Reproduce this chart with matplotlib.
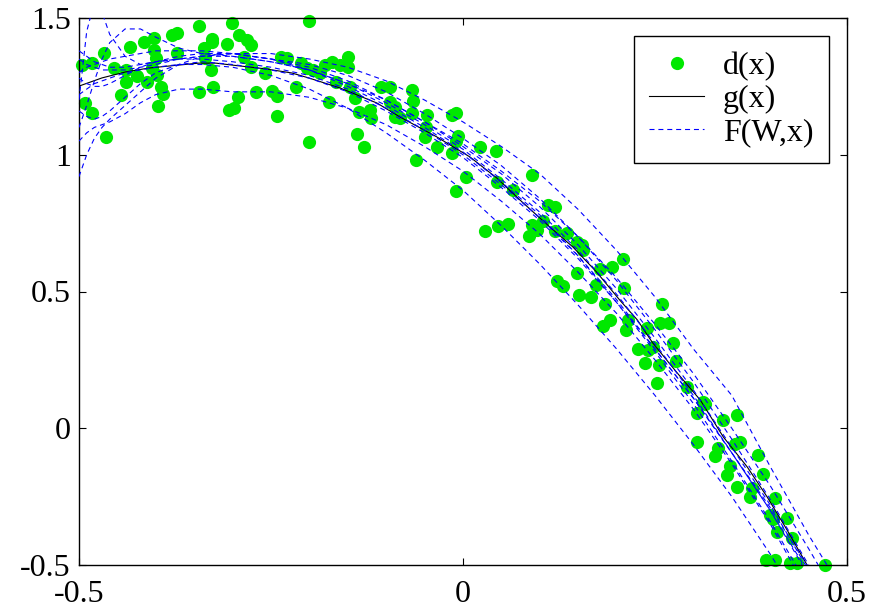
import numpy as np
import matplotlib
matplotlib.use("Agg")
import matplotlib.pyplot as plt

plt.rcParams['font.family'] = ['Liberation Serif', 'DejaVu Serif']
plt.rcParams['axes.unicode_minus'] = False

# ---- noisy samples d(x) ----
d_x = [-0.496, -0.483, -0.467, -0.454, -0.434, -0.415, -0.402, -0.379, -0.372, -0.344,
       -0.301, -0.201, -0.439, -0.439, -0.424, -0.411, -0.402, -0.400, -0.405, -0.398,
       -0.393, -0.391, -0.397, -0.445, -0.492, -0.483, -0.465, -0.372, -0.337, -0.336,
       -0.328, -0.327, -0.327, -0.326, -0.344, -0.307, -0.292, -0.281, -0.276, -0.285,
       -0.276, -0.293, -0.305, -0.298, -0.270, -0.258, -0.249, -0.242, -0.242, -0.237,
       -0.229, -0.217, -0.211, -0.201, -0.203, -0.195, -0.186, -0.180, -0.171, -0.160,
       -0.150, -0.150, -0.165, -0.147, -0.141, -0.174, -0.135, -0.121, -0.120, -0.138,
       -0.129, -0.107, -0.095, -0.095, -0.089, -0.089, -0.082, -0.066, -0.065, -0.066,
       -0.047, -0.048, -0.049, -0.014, -0.009, -0.006, -0.009, -0.034, -0.014, -0.061,
       0.022, 0.043, 0.004, -0.009, 0.044, 0.090, 0.065, 0.111, 0.120, 0.029,
       0.046, 0.059, 0.104, 0.090, 0.096, 0.086, 0.120, 0.135, 0.148, 0.155,
       0.156, 0.208, 0.194, 0.178, 0.148, 0.122, 0.130, 0.173, 0.210, 0.151,
       0.167, 0.185, 0.191, 0.215, 0.182, 0.212, 0.259, 0.257, 0.268, 0.240,
       0.273, 0.228, 0.241, 0.247, 0.237, 0.255, 0.277, 0.253, 0.292, 0.3125,
       0.315, 0.305, 0.339, 0.357, 0.305, 0.332, 0.328, 0.354, 0.361, 0.384,
       0.348, 0.344, 0.391, 0.357, 0.376, 0.374, 0.406, 0.400, 0.404, 0.422,
       0.409, 0.428, 0.395, 0.406, 0.426, 0.435, 0.471]
d_y = [1.328, 1.335, 1.372, 1.317, 1.394, 1.412, 1.427, 1.438, 1.445, 1.471,
       1.482, 1.489, 1.310, 1.266, 1.288, 1.266, 1.383, 1.354, 1.317, 1.292,
       1.248, 1.222, 1.178, 1.218, 1.189, 1.153, 1.065, 1.372, 1.390, 1.354,
       1.310, 1.423, 1.412, 1.248, 1.229, 1.405, 1.438, 1.420, 1.401, 1.357,
       1.321, 1.211, 1.164, 1.171, 1.229, 1.299, 1.233, 1.215, 1.142, 1.357,
       1.354, 1.248, 1.335, 1.047, 1.317, 1.310, 1.299, 1.328, 1.339, 1.328,
       1.357, 1.321, 1.266, 1.248, 1.207, 1.193, 1.156, 1.164, 1.134, 1.076,
       1.028, 1.248, 1.248, 1.193, 1.175, 1.138, 1.134, 1.237, 1.197, 1.153,
       1.145, 1.101, 1.065, 1.145, 1.153, 1.068, 1.050, 1.028, 1.006, 0.981,
       1.028, 1.014, 0.919, 0.867, 0.900, 0.926, 0.871, 0.816, 0.809, 0.721,
       0.739, 0.747, 0.758, 0.743, 0.725, 0.703, 0.721, 0.714, 0.681, 0.670,
       0.652, 0.619, 0.590, 0.582, 0.568, 0.538, 0.520, 0.524, 0.513, 0.487,
       0.480, 0.454, 0.396, 0.396, 0.374, 0.359, 0.454, 0.385, 0.385, 0.367,
       0.312, 0.290, 0.286, 0.297, 0.239, 0.231, 0.246, 0.165, 0.151, 0.096,
       0.089, 0.056, 0.030, 0.048, -0.050, -0.072, -0.101, -0.058, -0.050, -0.098,
       -0.138, -0.171, -0.167, -0.215, -0.218, -0.251, -0.255, -0.317, -0.332, -0.328,
       -0.379, -0.401, -0.482, -0.482, -0.493, -0.493, -0.500]

# ---- target function g(x) ----
g_x = [-0.500, -0.470, -0.439, -0.409, -0.370, -0.344, -0.322, -0.301, -0.257, -0.223,
       -0.201, -0.160, -0.112, -0.082, -0.034, 0.009, 0.044, 0.074, 0.113, 0.143,
       0.174, 0.204, 0.227, 0.247, 0.279, 0.309, 0.339, 0.370, 0.396, 0.422,
       0.448, 0.470]
g_y = [1.251, 1.281, 1.303, 1.317, 1.328, 1.335, 1.335, 1.328, 1.314, 1.299,
       1.281, 1.244, 1.189, 1.138, 1.065, 0.992, 0.915, 0.835, 0.736, 0.663,
       0.571, 0.469, 0.396, 0.312, 0.202, 0.103, -0.032, -0.141, -0.251, -0.372,
       -0.500, -0.600]

# ---- network outputs F(W,x), one list per trained network ----
f_x = [-0.50, -0.49, -0.48, -0.47, -0.46, -0.44, -0.42, -0.40, -0.37, -0.34,
       -0.30, -0.25, -0.20, -0.15, -0.10, -0.05, 0.00, 0.05, 0.10, 0.15,
       0.20, 0.25, 0.30, 0.35, 0.40, 0.45, 0.50]
f1 = [1.20, 1.45, 1.56, 1.52, 1.44, 1.36, 1.33, 1.34, 1.36, 1.37, 1.37, 1.35, 1.32, 1.27,
      1.20, 1.12, 1.03, 0.93, 0.81, 0.67, 0.51, 0.33, 0.14, -0.07, -0.28, -0.52, -0.78]
f2 = [1.10, 1.18, 1.27, 1.35, 1.41, 1.46, 1.46, 1.43, 1.39, 1.37, 1.36, 1.34, 1.31, 1.26,
      1.19, 1.11, 1.02, 0.91, 0.79, 0.65, 0.49, 0.31, 0.12, -0.09, -0.30, -0.54, -0.80]
f3 = [0.92, 1.00, 1.06, 1.10, 1.13, 1.18, 1.23, 1.28, 1.33, 1.36, 1.37, 1.35, 1.31, 1.25,
      1.18, 1.10, 1.01, 0.90, 0.78, 0.63, 0.46, 0.28, 0.09, -0.12, -0.34, -0.58, -0.85]
f4 = [1.05, 1.08, 1.10, 1.11, 1.12, 1.15, 1.19, 1.22, 1.24, 1.24, 1.23, 1.23, 1.21, 1.17,
      1.11, 1.03, 0.94, 0.83, 0.71, 0.57, 0.42, 0.25, 0.07, -0.13, -0.35, -0.60, -0.87]
f5 = [1.35, 1.33, 1.32, 1.31, 1.31, 1.31, 1.32, 1.33, 1.35, 1.36, 1.37, 1.37, 1.35, 1.32,
      1.27, 1.20, 1.12, 1.03, 0.93, 0.80, 0.65, 0.48, 0.29, 0.12, -0.14, -0.39, -0.62]
f6 = [1.30, 1.32, 1.33, 1.34, 1.35, 1.36, 1.37, 1.38, 1.38, 1.38, 1.37, 1.35, 1.33, 1.29,
      1.23, 1.15, 1.06, 0.96, 0.84, 0.70, 0.54, 0.36, 0.17, -0.04, -0.26, -0.50, -0.76]
f7 = [1.22, 1.24, 1.26, 1.27, 1.28, 1.30, 1.31, 1.32, 1.33, 1.33, 1.32, 1.29, 1.24, 1.17,
      1.08, 0.98, 0.87, 0.74, 0.60, 0.45, 0.29, 0.12, -0.06, -0.25, -0.46, -0.69, -0.95]
f8 = [1.28, 1.26, 1.25, 1.25, 1.26, 1.29, 1.32, 1.34, 1.35, 1.35, 1.34, 1.32, 1.29, 1.24,
      1.17, 1.09, 1.00, 0.89, 0.77, 0.63, 0.47, 0.29, 0.11, -0.09, -0.30, -0.53, -0.78]
f9 = [1.16, 1.14, 1.13, 1.14, 1.16, 1.21, 1.26, 1.30, 1.33, 1.34, 1.33, 1.31, 1.28, 1.23,
      1.16, 1.08, 0.99, 0.88, 0.76, 0.62, 0.46, 0.29, 0.11, -0.09, -0.29, -0.51, -0.75]
f10 = [1.38, 1.36, 1.34, 1.33, 1.32, 1.32, 1.33, 1.34, 1.35, 1.36, 1.36, 1.34, 1.31, 1.26,
       1.20, 1.12, 1.04, 0.94, 0.83, 0.70, 0.55, 0.38, 0.20, 0.00, -0.21, -0.44, -0.68]
f_curves = [f1, f2, f3, f4, f5, f6, f7, f8, f9, f10]

x_ticks = [-0.5, 0, 0.5]
x_ticklabels = ['-0.5', '0', '0.5']
y_ticks = [-0.5, 0, 0.5, 1, 1.5]
y_ticklabels = ['-0.5', '0', '0.5', '1', '1.5']
labels = ['d(x)', 'g(x)', 'F(W,x)']

fig = plt.figure(figsize=(8.82, 6.09), dpi=100)
ax = fig.add_axes([79/882, 1-565/609, (847-79)/882, (565-18)/609])

ax.plot(d_x, d_y, 'o', color='#00e800', ms=9.5, mew=0, clip_on=False,
        label=labels[0], zorder=2)
ax.plot(g_x, g_y, '-', color='black', lw=0.8, label=labels[1], zorder=3)
for i, f in enumerate(f_curves):
    ax.plot(f_x, f, '--', color='#0000ff', lw=0.8, dashes=(4.5, 3.5),
            label=labels[2] if i == 0 else None, zorder=4)

ax.set_xlim(-0.5, 0.5)
ax.set_ylim(-0.5, 1.5)
ax.set_xticks(x_ticks)
ax.set_xticklabels(x_ticklabels)
ax.set_yticks(y_ticks)
ax.set_yticklabels(y_ticklabels)
ax.tick_params(direction='in', length=5, width=0.8, top=True, right=True,
               labelsize=23)
ax.tick_params(axis='x', pad=11)
ax.tick_params(axis='y', pad=6)
for s in ax.spines.values():
    s.set_linewidth(1.0)

leg = ax.legend(loc='upper right', fontsize=23, frameon=True, fancybox=False,
                edgecolor='black', framealpha=1, borderaxespad=0.55,
                handlelength=1.7, handletextpad=0.6, labelspacing=0.12,
                borderpad=0.5)
leg.get_frame().set_linewidth(1.0)

fig.savefig('out.png', dpi=100)
